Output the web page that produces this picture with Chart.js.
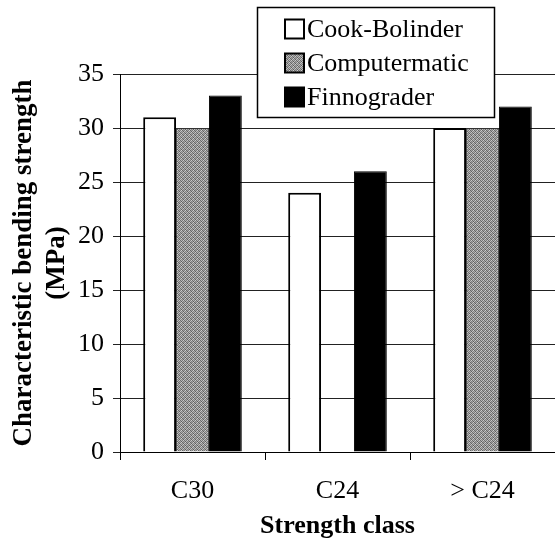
<!DOCTYPE html>
<html>
<head>
<meta charset="utf-8">
<script src="https://cdn.jsdelivr.net/npm/chart.js@4"></script>
<style>
  html, body { margin: 0; padding: 0; background: #fff; }
  #wrap { width: 555px; height: 542px; position: relative; }
</style>
</head>
<body>
<div id="wrap"><canvas id="c"></canvas></div>
<script>
const categories = ['C30', 'C24', '> C24'];
const seriesNames = ['Cook-Bolinder', 'Computermatic', 'Finnograder'];
const cookBolinder = [31, 24, 30];
const computermatic = [30, null, 30];
const finnograder = [33, 26, 32];
const yMin = 0, yMax = 35, yStep = 5;
const yTitle = ['Characteristic bending strength', '(MPa)'];
const xTitle = 'Strength class';

const FONT = "'Liberation Serif', 'Times New Roman', serif";

function makeStipple() {
  const c = document.createElement('canvas');
  c.width = 4; c.height = 4;
  const g = c.getContext('2d');
  const px = [
    '#6e6e6e', '#b4b4b4', '#7a7a7a', '#c8c8c8',
    '#a8a8a8', '#5c5c5c', '#bcbcbc', '#808080',
    '#7c7c7c', '#cfcfcf', '#666666', '#a0a0a0',
    '#c0c0c0', '#848484', '#acacac', '#606060'
  ];
  for (let i = 0; i < 16; i++) {
    g.fillStyle = px[i];
    g.fillRect(i % 4, Math.floor(i / 4), 1, 1);
  }
  return g.createPattern(c, 'repeat');
}
const stipple = makeStipple();
const fills = ['#ffffff', stipple, '#000000'];

const legendPlugin = {
  id: 'boxLegend',
  afterDraw(chart) {
    const ctx = chart.ctx;
    const x0 = 257, y0 = 7, x1 = 495, y1 = 118;
    ctx.save();
    ctx.fillStyle = '#fff';
    ctx.fillRect(x0, y0, x1 - x0, y1 - y0);
    ctx.strokeStyle = '#000';
    ctx.lineWidth = 1.5;
    ctx.strokeRect(x0 + 0.5, y0 + 0.5, x1 - x0 - 1, y1 - y0 - 1);
    ctx.font = '26px ' + FONT;
    ctx.textBaseline = 'middle';
    ctx.fillStyle = '#000';
    chart.data.datasets.forEach((ds, i) => {
      const cy = 29 + i * 34;
      const sx = 285, sw = 19, sh = 19;
      ctx.fillStyle = ds.backgroundColor;
      ctx.fillRect(sx, cy - sh / 2, sw, sh);
      ctx.strokeStyle = '#000';
      ctx.lineWidth = 2;
      ctx.strokeRect(sx, cy - sh / 2, sw, sh);
      ctx.fillStyle = '#000';
      ctx.fillText(ds.label, 307, cy + 1);
    });
    ctx.restore();
  }
};

new Chart(document.getElementById('c'), {
  type: 'bar',
  data: {
    labels: categories,
    datasets: [
      { label: seriesNames[0], data: cookBolinder, backgroundColor: fills[0], borderColor: '#000', borderWidth: 2 },
      { label: seriesNames[1], data: computermatic, backgroundColor: fills[1], borderColor: '#333', borderWidth: 1 },
      { label: seriesNames[2], data: finnograder, backgroundColor: fills[2], borderColor: '#000', borderWidth: 1 }
    ]
  },
  options: {
    responsive: true,
    maintainAspectRatio: false,
    animation: false,
    layout: { padding: { top: 74, right: 0, left: 0, bottom: 0 } },
    plugins: { legend: { display: false }, tooltip: { enabled: false } },
    datasets: { bar: { barPercentage: 1.0, categoryPercentage: 0.68 } },
    scales: {
      x: {
        offset: true,
        afterFit(s) { s.height = 90; },
        grid: { offset: true, drawOnChartArea: false, drawTicks: true, tickLength: 8, color: '#000', lineWidth: 1 },
        border: { display: true, color: '#000', width: 1 },
        ticks: { color: '#000', font: { family: FONT, size: 26 }, padding: 16 },
        title: { display: true, text: xTitle, color: '#000', font: { family: FONT, size: 26, weight: 'bold' }, padding: { top: 6, bottom: 0 } }
      },
      y: {
        min: yMin, max: yMax,
        afterFit(s) { s.width = 120; },
        grid: { color: '#222', lineWidth: 1, tickLength: 7, drawTicks: true },
        border: { display: true, color: '#000', width: 1 },
        ticks: { stepSize: yStep, color: '#000', font: { family: FONT, size: 26 }, padding: 9 },
        title: { display: true, text: yTitle, color: '#000', font: { family: FONT, size: 27, weight: 'bold', lineHeight: 1.2 }, padding: { top: 8, bottom: 4 } }
      }
    }
  },
  plugins: [legendPlugin]
});
</script>
</body>
</html>
